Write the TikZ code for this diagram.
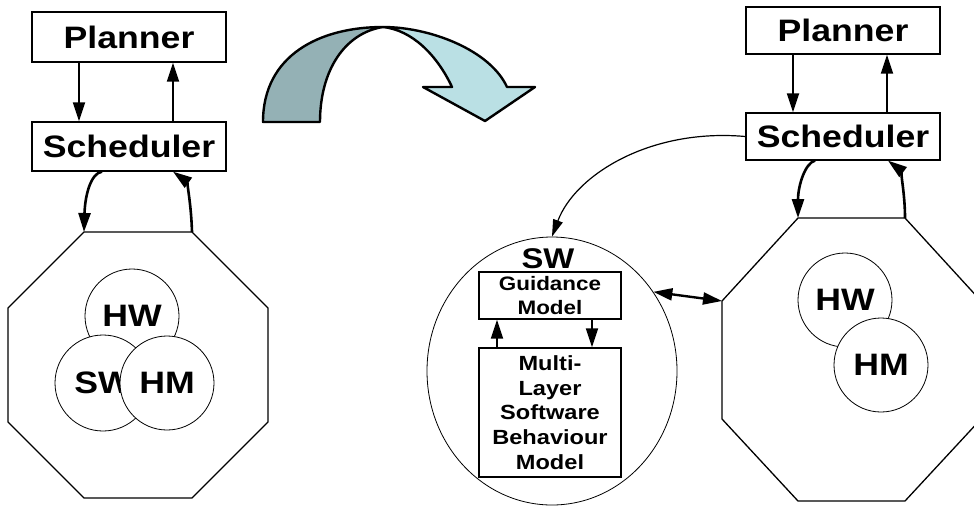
\documentclass[tikz,border=0pt]{standalone}
\usepackage{fontspec}
\setmainfont{Liberation Sans}[FakeStretch=1.15]
\usetikzlibrary{arrows.meta,shapes.geometric}
\definecolor{bandDark}{RGB}{148,177,181}
\definecolor{bandLight}{RGB}{186,224,228}
\tikzset{
  box/.style={draw, line width=1.3pt, inner sep=0pt, font=\bfseries\fontsize{31}{36}\selectfont},
  ring/.style={draw, circle, line width=0.8pt, fill=white, inner sep=0pt, minimum size=94pt, font=\bfseries\fontsize{31}{36}\selectfont},
  octo/.style={line width=1.3pt, line join=miter},
  headtip/.tip={Triangle[length=19pt 0 0,width=12pt 0 0]},
  tiparrow/.style={-headtip},
  connarrow/.style={tiparrow, line width=2pt},
  bendarrow/.style={tiparrow, line width=2.6pt},
  thinarrow/.style={-{Triangle[length=17pt 0 0,width=10pt 0 0]}, line width=1.2pt},
  bandshape/.style={draw=black, line width=2.4pt, line join=round},
}
\begin{document}
\begin{tikzpicture}[x=1pt,y=-1pt]
\useasboundingbox (0,0) rectangle (974,507);

% ---------- left side ----------
\node[box, minimum width=194pt, minimum height=50pt] (pL) at (129,37) {Planner};
\node[box, minimum width=194pt, minimum height=49pt] (sL) at (129,146.5) {Scheduler};

\coordinate (oL1) at (84,232);
\coordinate (oL2) at (192,232);
\coordinate (oL3) at (268,308);
\coordinate (oL4) at (268,422);
\coordinate (oL5) at (192,498);
\coordinate (oL6) at (84,498);
\coordinate (oL7) at (8,422);
\coordinate (oL8) at (8,308);
\draw[octo] (oL1) -- (oL2) -- (oL3) -- (oL4) -- (oL5) -- (oL6) -- (oL7) -- (oL8) -- cycle;

\node[ring] (hwL) at (132,316) {HW};
\node[ring, minimum size=96pt] (swL) at (103,383) {SW};
\node[ring] (hmL) at (167,383) {HM};

\draw[connarrow] (pL.south -| 79,0) -- (sL.north -| 79,0);
\draw[connarrow] (sL.north -| 173,0) -- (pL.south -| 173,0);
\draw[bendarrow] (sL.south -| 102,0) .. controls (91,173) and (85,195) .. (oL1);
\draw[bendarrow] (oL2) .. controls (191,200) and (186,181) .. (sL.south -| 173,0);

% ---------- big curved arrow ----------
\path[bandshape, fill=bandLight] (383,27) .. controls (430,27) and (490,50) .. (507,87)
  -- (535,87) -- (485,121) -- (423,87) -- (452,87)
  .. controls (437,55) and (412,30) .. (383,27) -- cycle;
\path[bandshape, fill=bandDark] (263,122) .. controls (263,55) and (320,27) .. (383,27)
  .. controls (345,33) and (320,70) .. (320,122) -- cycle;

% ---------- right side ----------
\node[box, minimum width=194pt, minimum height=47pt] (pR) at (843,30.5) {Planner};
\node[box, minimum width=194pt, minimum height=47pt] (sR) at (843,136.5) {Scheduler};

\coordinate (oR1) at (798,218);
\coordinate (oR2) at (905,218);
\coordinate (oR3) at (981,301);
\coordinate (oR4) at (981,419);
\coordinate (oR5) at (905,501);
\coordinate (oR6) at (798,501);
\coordinate (oR7) at (722,419);
\coordinate (oR8) at (722,301);
\draw[octo] (oR1) -- (oR2) -- (oR3) -- (oR4) -- (oR5) -- (oR6) -- (oR7) -- (oR8) -- cycle;

\node[ring] (hwR) at (845,300) {HW};
\node[ring] (hmR) at (881,365) {HM};

\draw[connarrow] (pR.south -| 793,0) -- (sR.north -| 793,0);
\draw[connarrow] (sR.north -| 887,0) -- (pR.south -| 887,0);
\draw[bendarrow] (sR.south -| 815,0) .. controls (805,163) and (798,186) .. (oR1);
\draw[bendarrow] (oR2) .. controls (905,190) and (899,169) .. (sR.south -| 888,0);

% SW ellipse
\node[draw, ellipse, line width=0.8pt, inner sep=0pt, minimum width=250pt, minimum height=268pt] (swC) at (552,371) {};
\node[font=\bfseries\fontsize{28.5}{32}\selectfont, inner sep=0pt] (swT) at (548,259) {SW};
\node[box, minimum width=142pt, minimum height=47pt, align=center,
      font=\bfseries\fontsize{19.5}{24}\selectfont] (gm) at (550,295.5) {Guidance\\Model};
\node[box, minimum width=142pt, minimum height=129pt, align=center,
      font=\bfseries\fontsize{20.5}{24.7}\selectfont] (ml) at (550,412.5) {Multi-\\Layer\\Software\\Behaviour\\Model};
\draw[connarrow] (ml.north -| 497,0) -- (gm.south -| 497,0);
\draw[connarrow] (gm.south -| 592,0) -- (ml.north -| 592,0);

\draw[thinarrow] (sR.west) .. controls (650,128) and (575,175) .. (swC.north);
\draw[line width=2.4pt, headtip-headtip] (swC.38.7) -- (oR8);
\end{tikzpicture}
\end{document}
